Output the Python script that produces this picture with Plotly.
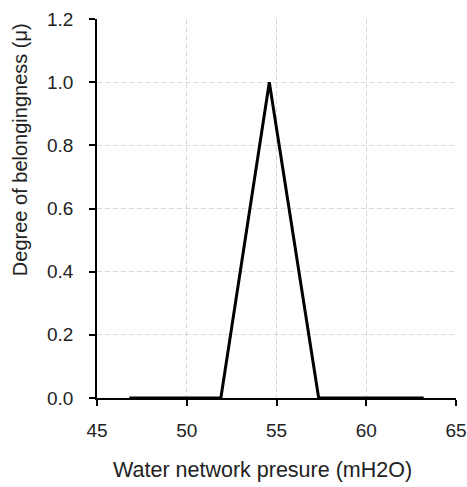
import plotly.graph_objects as go

# membership function (triangular)
pressure = [46.8, 51.9, 54.6, 57.35, 63.2]
membership = [0.0, 0.0, 1.0, 0.0, 0.0]

x_title = "Water network presure (mH2O)"
y_title = "Degree of belongingness (μ)"

fig = go.Figure(go.Scatter(x=pressure, y=membership, mode="lines",
                           line=dict(color="black", width=3), showlegend=False))

family = "Liberation Sans, Arial, sans-serif"
tickfont = dict(family=family, size=19, color="#222")
grid = dict(showgrid=True, gridcolor="#d9d9d9", griddash="5px,3px", gridwidth=1,
            zeroline=False, showline=True, linecolor="black", linewidth=1.5,
            ticks="outside", ticklen=6, tickcolor="black", tickwidth=1.5,
            tickfont=tickfont, automargin=False)

fig.update_layout(
    width=467, height=487,
    margin=dict(l=97, r=11, t=19, b=89),
    plot_bgcolor="white", paper_bgcolor="white",
    xaxis=dict(range=[45, 65], dtick=5, ticklabelstandoff=8, **grid),
    yaxis=dict(range=[0, 1.2], dtick=0.2, tickformat=".1f", ticklabelstandoff=12, **grid),
)

# axis titles as annotations: in the original they sit off-centre
fig.add_annotation(text=x_title, xref="paper", yref="paper", x=0.46, y=0,
                   yshift=-72, showarrow=False, xanchor="center", yanchor="middle",
                   font=dict(family=family, size=21.5, color="#222"))
fig.add_annotation(text=y_title, xref="paper", yref="paper", x=0, y=0.654,
                   xshift=-77, textangle=-90, showarrow=False,
                   xanchor="center", yanchor="middle",
                   font=dict(family=family, size=20, color="#222"))

# page body has an 8px default margin; drop it so the figure sits at 0,0
fig.write_html("out.html", config={"displayModeBar": False},
               post_script="document.body.style.margin='0';")
